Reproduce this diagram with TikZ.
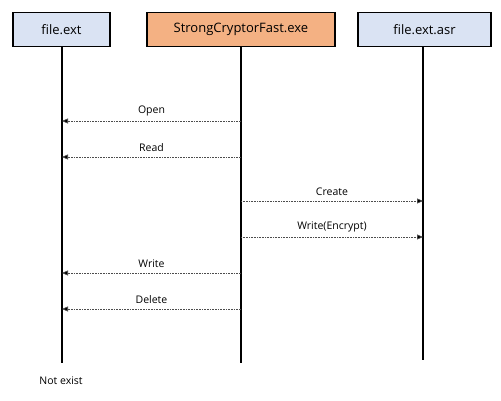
\documentclass[tikz,border=0pt]{standalone}
\usepackage{fontspec}
\setmainfont{Open Sans}
\usetikzlibrary{arrows.meta}
\definecolor{boxblue}{HTML}{DAE3F3}
\definecolor{boxorange}{HTML}{F4B183}
\begin{document}
\begin{tikzpicture}[x=1pt,y=-1pt,
  actor/.style={draw=black,line width=1.6pt,minimum height=34pt,inner sep=0pt,font=\fontsize{13}{15}\selectfont},
  life/.style={line width=2pt},
  msg/.style={densely dotted,line width=0.6pt,draw=black!70,-{Triangle[length=6pt,width=5pt,fill=black]}},
  lbl/.style={font=\fontsize{10.5}{12}\selectfont,above,yshift=4pt,inner sep=1pt}]
\useasboundingbox (0,0) rectangle (501,401);
\node[actor,fill=boxblue,minimum width=97pt] (A) at (61.5,29.5) {file.ext};
\node[actor,fill=boxorange,minimum width=188pt] (B) at (241,29.5) {StrongCryptorFast.exe};
\node[actor,fill=boxblue,minimum width=133pt] (C) at (424.5,29.5) {file.ext.asr};
\coordinate (Ae) at (62,363);
\coordinate (Be) at (241,363);
\coordinate (Ce) at (423,360);
\draw[life] (A.south -| Ae) -- (Ae);
\draw[life] (B.south) -- (Be);
\draw[life] (C.south -| Ce) -- (Ce);
\node[font=\fontsize{10.5}{12}\selectfont] (N) at (61,381) {Not exist};
% messages
\foreach \n/\y in {1/121,2/157,5/273,6/309}{
  \coordinate (a\n) at (62,\y);
  \coordinate (b\n) at (241,\y);
}
\foreach \n/\y in {3/201,4/237}{
  \coordinate (b\n) at (241,\y);
  \coordinate (c\n) at (423,\y);
}
\draw[msg] (b1) -- node[lbl]{Open} (a1);
\draw[msg] (b2) -- node[lbl]{Read} (a2);
\draw[msg] (b3) -- node[lbl]{Create} (c3);
\draw[msg] (b4) -- node[lbl]{Write(Encrypt)} (c4);
\draw[msg] (b5) -- node[lbl]{Write} (a5);
\draw[msg] (b6) -- node[lbl]{Delete} (a6);
\end{tikzpicture}
\end{document}
